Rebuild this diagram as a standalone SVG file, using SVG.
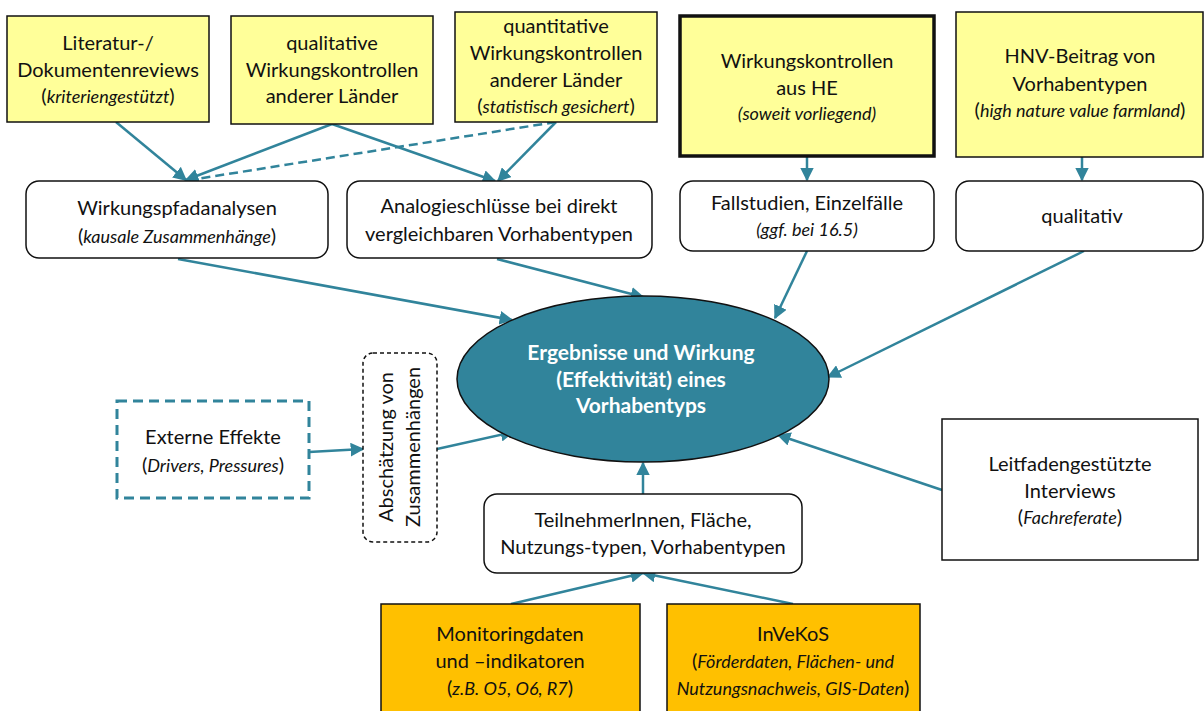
<svg xmlns="http://www.w3.org/2000/svg" width="1204" height="711" viewBox="0 0 1204 711">
  <style>
    text { font-family: Lato, "Open Sans", "Liberation Sans", sans-serif; fill: #111; text-anchor: middle; }
    .t { font-size: 20px; }
    .i { font-size: 18px; font-style: italic; }
    .yellow { fill: #FFFF99; stroke: #111; stroke-width: 1.5; }
    .orange { fill: #FFC000; stroke: #111; stroke-width: 1.5; }
    .white { fill: #fff; stroke: #111; stroke-width: 1.5; }
    .thick { stroke-width: 3.5; }
    .conn { stroke: #31849B; stroke-width: 2.5; fill: none; }
    .dash { stroke-dasharray: 9 5; }
    .ell text { fill: #fff; font-weight: bold; font-size: 21px; }
  </style>
  <defs>
    <marker id="arr" viewBox="0 0 10 10" refX="9" refY="5" markerWidth="5.5" markerHeight="5.5" orient="auto" markerUnits="strokeWidth">
      <path d="M0,0 L10,5 L0,10 z" fill="#31849B"/>
    </marker>
  </defs>
  <rect width="1204" height="711" fill="#fff"/>

  <!-- connectors -->
  <g id="connectors">
    <line class="conn" x1="116" y1="122" x2="186" y2="180" marker-end="url(#arr)"/>
    <line class="conn" x1="332" y1="124" x2="186" y2="180" marker-end="url(#arr)"/>
    <line class="conn dash" x1="556" y1="122" x2="190" y2="180"/>
    <line class="conn" x1="332" y1="124" x2="495" y2="181" marker-end="url(#arr)"/>
    <line class="conn" x1="556" y1="122" x2="498" y2="181" marker-end="url(#arr)"/>
    <line class="conn" x1="807" y1="157" x2="807" y2="180" marker-end="url(#arr)"/>
    <line class="conn" x1="1082" y1="157" x2="1082" y2="180" marker-end="url(#arr)"/>
    <line class="conn" x1="178" y1="259" x2="512" y2="320" marker-end="url(#arr)"/>
    <line class="conn" x1="497" y1="259" x2="643" y2="297" marker-end="url(#arr)"/>
    <line class="conn" x1="807" y1="251" x2="775" y2="318" marker-end="url(#arr)"/>
    <line class="conn" x1="1084" y1="251" x2="828" y2="377" marker-end="url(#arr)"/>
    <line class="conn" x1="942" y1="490" x2="778" y2="435" marker-end="url(#arr)"/>
    <line class="conn" x1="643" y1="494" x2="643" y2="463" marker-end="url(#arr)"/>
    <line class="conn" x1="309" y1="452" x2="363" y2="449" marker-end="url(#arr)"/>
    <line class="conn" x1="437" y1="449" x2="513" y2="432" marker-end="url(#arr)"/>
    <line class="conn" x1="511" y1="604" x2="643" y2="573" marker-end="url(#arr)"/>
    <line class="conn" x1="793" y1="604" x2="643" y2="573" marker-end="url(#arr)"/>
  </g>

  <!-- top row: sources -->
  <g id="literatur">
    <rect class="yellow" x="7" y="16" width="202" height="106"/>
    <text class="t" x="108" y="50">Literatur-/</text>
    <text class="t" x="108" y="77">Dokumentenreviews</text>
    <text class="t" x="108" y="103">(<tspan class="i">kriteriengestützt</tspan>)</text>
  </g>
  <g id="qualitative-laender">
    <rect class="yellow" x="231" y="16" width="202" height="108"/>
    <text class="t" x="332" y="50">qualitative</text>
    <text class="t" x="332" y="77">Wirkungskontrollen</text>
    <text class="t" x="332" y="103">anderer Länder</text>
  </g>
  <g id="quantitative-laender">
    <rect class="yellow" x="455" y="12" width="202" height="110"/>
    <text class="t" x="556" y="33">quantitative</text>
    <text class="t" x="556" y="60">Wirkungskontrollen</text>
    <text class="t" x="556" y="87">anderer Länder</text>
    <text class="t" x="556" y="113">(<tspan class="i">statistisch gesichert</tspan>)</text>
  </g>
  <g id="he">
    <rect class="yellow thick" x="680" y="16" width="254" height="140"/>
    <text class="t" x="807" y="68">Wirkungskontrollen</text>
    <text class="t" x="807" y="95">aus HE</text>
    <text class="i" x="807" y="120">(soweit vorliegend)</text>
  </g>
  <g id="hnv">
    <rect class="yellow" x="956" y="12" width="247" height="145"/>
    <text class="t" x="1080" y="63">HNV-Beitrag von</text>
    <text class="t" x="1080" y="91">Vorhabentypen</text>
    <text class="t" x="1080" y="117">(<tspan class="i">high nature value farmland</tspan>)</text>
  </g>

  <!-- middle row: methods -->
  <g id="wirkungspfad">
    <rect class="white" x="26" y="181" width="302" height="77" rx="13"/>
    <text class="t" x="177" y="215">Wirkungspfadanalysen</text>
    <text class="t" x="177" y="243">(<tspan class="i">kausale Zusammenhänge</tspan>)</text>
  </g>
  <g id="analogie">
    <rect class="white" x="347" y="181" width="305" height="77" rx="13"/>
    <text class="t" x="499" y="213">Analogieschlüsse bei direkt</text>
    <text class="t" x="499" y="241">vergleichbaren Vorhabentypen</text>
  </g>
  <g id="fallstudien">
    <rect class="white" x="680" y="181" width="254" height="70" rx="13"/>
    <text class="t" x="807" y="210">Fallstudien, Einzelfälle</text>
    <text class="i" x="807" y="236">(ggf. bei 16.5)</text>
  </g>
  <g id="qualitativ">
    <rect class="white" x="956" y="181" width="247" height="70" rx="13"/>
    <text class="t" x="1082" y="223">qualitativ</text>
  </g>

  <!-- centre -->
  <g id="ergebnis" class="ell">
    <ellipse cx="643" cy="379" rx="186" ry="83" fill="#31849B" stroke="#111" stroke-width="1.5"/>
    <text x="641" y="360">Ergebnisse und  Wirkung</text>
    <text x="641" y="387">(Effektivität) eines</text>
    <text x="641" y="413">Vorhabentyps</text>
  </g>

  <g id="externe">
    <rect x="117" y="401" width="192" height="97" fill="#fff" stroke="#31849B" stroke-width="3" stroke-dasharray="10 6"/>
    <text class="t" x="213" y="444">Externe Effekte</text>
    <text class="t" x="213" y="472">(<tspan class="i">Drivers, Pressures</tspan>)</text>
  </g>
  <g id="abschaetzung">
    <rect x="363" y="353" width="74" height="189" rx="10" fill="#fff" stroke="#111" stroke-width="1.5" stroke-dasharray="4 3"/>
    <text class="t" transform="translate(400 447) rotate(-90)" y="-7">Abschätzung von</text>
    <text class="t" transform="translate(400 447) rotate(-90)" y="20">Zusammenhängen</text>
  </g>
  <g id="teilnehmer">
    <rect class="white" x="484" y="494" width="318" height="79" rx="13"/>
    <text class="t" x="643" y="527">TeilnehmerInnen, Fläche,</text>
    <text class="t" x="643" y="554">Nutzungs-typen, Vorhabentypen</text>
  </g>
  <g id="leitfaden">
    <rect class="white" x="942" y="419" width="256" height="141"/>
    <text class="t" x="1070" y="471">Leitfadengestützte</text>
    <text class="t" x="1070" y="498">Interviews</text>
    <text class="t" x="1070" y="524">(<tspan class="i">Fachreferate</tspan>)</text>
  </g>

  <!-- bottom row: data -->
  <g id="monitoring">
    <rect class="orange" x="381" y="604" width="259" height="112"/>
    <text class="t" x="510" y="641">Monitoringdaten</text>
    <text class="t" x="510" y="668">und –indikatoren</text>
    <text class="t" x="510" y="695">(<tspan class="i">z.B. O5, O6, R7</tspan>)</text>
  </g>
  <g id="invekos">
    <rect class="orange" x="667" y="604" width="253" height="112"/>
    <text class="t" x="793" y="641">InVeKoS</text>
    <text class="t" x="793" y="668">(<tspan class="i">Förderdaten, Flächen- und</tspan></text>
    <text class="t" x="793" y="695"><tspan class="i">Nutzungsnachweis, GIS-Daten</tspan>)</text>
  </g>
</svg>
